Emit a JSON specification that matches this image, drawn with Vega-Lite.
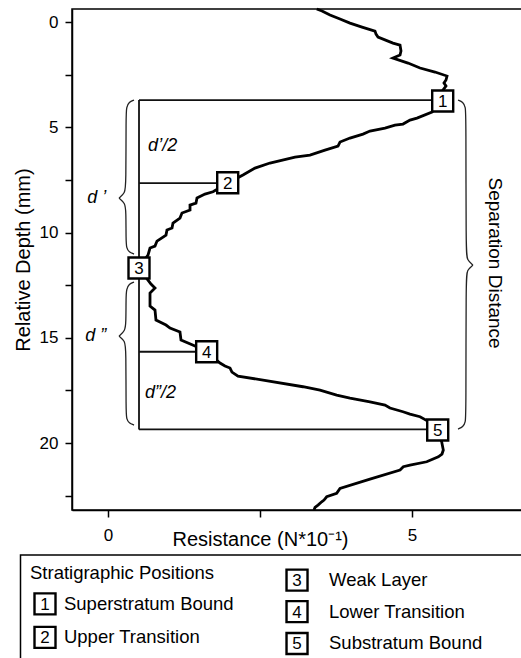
{
  "$schema": "https://vega.github.io/schema/vega-lite/v6.json",
  "width": 454,
  "height": 501,
  "autosize": {"type": "none"},
  "padding": {"left": 72, "top": 9, "right": 0, "bottom": 148},
  "background": "white",
  "config": {
    "font": "Liberation Sans",
    "view": {"stroke": "#000", "strokeWidth": 1.5},
    "axis": {"grid": false, "domainColor": "#000", "domainWidth": 1.5, "tickColor": "#000", "tickWidth": 1.5, "tickSize": 7, "labelColor": "#000", "titleColor": "#000", "labelFont": "Liberation Sans", "titleFont": "Liberation Sans", "titleFontWeight": "normal", "labelFontSize": 17, "titleFontSize": 20}
  },
  "datasets": {
    "curve": [
      {"r":3.433,"d":-0.62},{"r":3.520,"d":-0.523},{"r":3.651,"d":-0.333},{"r":3.816,"d":-0.143},{"r":3.980,"d":0.048},{"r":4.178,"d":0.238},{"r":4.391,"d":0.428},{"r":4.408,"d":0.570},{"r":4.441,"d":0.713},{"r":4.687,"d":0.998},{"r":4.803,"d":1.093},{"r":4.819,"d":1.378},{"r":4.803,"d":1.568},{"r":4.687,"d":1.710},{"r":4.934,"d":1.948},{"r":5.132,"d":2.185},{"r":5.378,"d":2.375},{"r":5.576,"d":2.565},{"r":5.559,"d":2.755},{"r":5.526,"d":2.898},{"r":5.559,"d":3.040},{"r":5.510,"d":3.230},{"r":5.510,"d":3.468},{"r":5.505,"d":3.786},{"r":5.329,"d":4.276},{"r":5.082,"d":4.561},{"r":4.967,"d":4.656},{"r":4.852,"d":4.846},{"r":4.720,"d":4.893},{"r":4.556,"d":5.036},{"r":4.309,"d":5.178},{"r":4.194,"d":5.321},{"r":3.980,"d":5.511},{"r":3.816,"d":5.701},{"r":3.783,"d":5.891},{"r":3.569,"d":6.081},{"r":3.322,"d":6.318},{"r":3.076,"d":6.413},{"r":2.664,"d":6.698},{"r":2.418,"d":6.936},{"r":2.220,"d":7.268},{"r":1.974,"d":7.648},{"r":1.727,"d":8.062},{"r":1.595,"d":8.171},{"r":1.464,"d":8.361},{"r":1.447,"d":8.599},{"r":1.349,"d":8.694},{"r":1.349,"d":8.931},{"r":1.217,"d":9.074},{"r":1.184,"d":9.311},{"r":1.069,"d":9.549},{"r":1.053,"d":9.786},{"r":0.970,"d":9.881},{"r":0.954,"d":10.119},{"r":0.806,"d":10.404},{"r":0.773,"d":10.641},{"r":0.691,"d":10.736},{"r":0.658,"d":11.069},{"r":0.510,"d":11.686},{"r":0.658,"d":12.257},{"r":0.707,"d":12.447},{"r":0.773,"d":12.637},{"r":0.691,"d":12.874},{"r":0.691,"d":13.492},{"r":0.773,"d":13.682},{"r":0.789,"d":14.157},{"r":0.954,"d":14.394},{"r":1.020,"d":14.537},{"r":1.184,"d":14.727},{"r":1.201,"d":15.107},{"r":1.431,"d":15.392},{"r":1.623,"d":15.663},{"r":1.842,"d":16.199},{"r":1.924,"d":16.342},{"r":2.007,"d":16.437},{"r":2.039,"d":16.627},{"r":2.138,"d":16.817},{"r":3.207,"d":17.325},{"r":3.487,"d":17.482},{"r":3.761,"d":17.720},{"r":3.980,"d":17.862},{"r":4.309,"d":18.038},{"r":4.556,"d":18.195},{"r":4.638,"d":18.337},{"r":4.852,"d":18.513},{"r":4.967,"d":18.622},{"r":5.132,"d":18.750},{"r":5.230,"d":18.907},{"r":5.423,"d":19.382},{"r":5.488,"d":19.938},{"r":5.515,"d":20.333},{"r":5.493,"d":20.523},{"r":5.433,"d":20.651},{"r":5.242,"d":20.888},{"r":4.967,"d":21.045},{"r":4.857,"d":21.126},{"r":4.803,"d":21.283},{"r":4.309,"d":21.710},{"r":3.816,"d":22.152},{"r":3.761,"d":22.390},{"r":3.597,"d":22.551},{"r":3.553,"d":22.708},{"r":3.515,"d":22.788},{"r":3.454,"d":22.945},{"r":3.405,"d":23.055},{"r":3.388,"d":23.18}
    ],
    "segs": [
      {"r":0.51,"d":3.705,"r2":0.51,"d2":19.35},
      {"r":0.51,"d":3.705,"r2":5.505,"d2":3.705},
      {"r":0.51,"d":7.648,"r2":1.97,"d2":7.648},
      {"r":0.51,"d":15.663,"r2":1.623,"d2":15.663},
      {"r":0.51,"d":19.35,"r2":5.423,"d2":19.35}
    ],
    "braces": [
      {"b":"a","r":0.428,"d":3.705},{"b":"a","r":0.345,"d":3.800},{"b":"a","r":0.304,"d":4.038},{"b":"a","r":0.296,"d":4.418},{"b":"a","r":0.296,"d":7.743},{"b":"a","r":0.280,"d":8.124},{"b":"a","r":0.181,"d":8.361},{"b":"a","r":0.181,"d":8.362},{"b":"a","r":0.280,"d":8.599},{"b":"a","r":0.296,"d":8.979},{"b":"a","r":0.296,"d":10.356},{"b":"a","r":0.304,"d":10.736},{"b":"a","r":0.345,"d":10.926},{"b":"a","r":0.428,"d":11.021},
      {"b":"b","r":0.428,"d":12.352},{"b":"b","r":0.345,"d":12.447},{"b":"b","r":0.304,"d":12.684},{"b":"b","r":0.296,"d":13.064},{"b":"b","r":0.296,"d":14.299},{"b":"b","r":0.280,"d":14.679},{"b":"b","r":0.181,"d":14.917},{"b":"b","r":0.181,"d":14.918},{"b":"b","r":0.280,"d":15.154},{"b":"b","r":0.296,"d":15.534},{"b":"b","r":0.296,"d":18.480},{"b":"b","r":0.304,"d":18.860},{"b":"b","r":0.345,"d":19.050},{"b":"b","r":0.428,"d":19.145},
      {"b":"c","r":5.757,"d":3.705},{"b":"c","r":5.839,"d":3.800},{"b":"c","r":5.880,"d":4.038},{"b":"c","r":5.888,"d":4.418},{"b":"c","r":5.888,"d":10.926},{"b":"c","r":5.905,"d":11.306},{"b":"c","r":6.003,"d":11.544},{"b":"c","r":6.003,"d":11.545},{"b":"c","r":5.905,"d":11.781},{"b":"c","r":5.888,"d":12.162},{"b":"c","r":5.888,"d":18.622},{"b":"c","r":5.880,"d":19.002},{"b":"c","r":5.839,"d":19.240},{"b":"c","r":5.757,"d":19.335}
    ],
    "boxes": [
      {"n":"1","r":5.505,"d":3.75},
      {"n":"2","r":1.969,"d":7.634},
      {"n":"3","r":0.51,"d":11.686},
      {"n":"4","r":1.623,"d":15.663},
      {"n":"5","r":5.423,"d":19.382},
      {"n":"1","r":-1.036,"d":27.64},
      {"n":"2","r":-1.036,"d":29.23},
      {"n":"3","r":3.109,"d":26.51},
      {"n":"4","r":3.109,"d":28.01},
      {"n":"5","r":3.109,"d":29.52}
    ],
    "halfLabels": [
      {"t":"d’/2","r":0.66,"d":5.89},
      {"t":"d”/2","r":0.61,"d":17.62}
    ],
    "braceLabels": [
      {"t":"d ’","r":-0.03,"d":8.361},
      {"t":"d ”","r":-0.03,"d":14.917}
    ],
    "side": [
      {"t":"Separation Distance","r":6.365,"d":11.45}
    ],
    "legendBox": [
      {"r":-1.439,"d":25.32,"r2":7.4,"d2":31.5}
    ],
    "legendText": [
      {"t":"Stratigraphic Positions","r":-1.283,"d":26.16},
      {"t":"Superstratum Bound","r":-0.724,"d":27.64},
      {"t":"Upper Transition","r":-0.724,"d":29.23},
      {"t":"Weak Layer","r":3.635,"d":26.51},
      {"t":"Lower Transition","r":3.635,"d":28.01},
      {"t":"Substratum Bound","r":3.635,"d":29.52}
    ]
  },
  "encoding": {
    "x": {
      "field": "r", "type": "quantitative",
      "scale": {"domain": [-0.592, 6.875], "nice": false, "zero": false},
      "axis": {"values": [0, 2.5, 5], "labelExpr": "datum.value % 5 === 0 ? datum.label : ''", "title": "Resistance (N*10⁻¹)", "titleX": 188, "titleY": 35, "titleBaseline": "alphabetic", "titleAlign": "center", "labelPadding": 10}
    },
    "y": {
      "field": "d", "type": "quantitative",
      "scale": {"domain": [-0.62, 23.18], "nice": false, "zero": false, "reverse": true},
      "axis": {"values": [0, 2.5, 5, 7.5, 10, 12.5, 15, 17.5, 20, 22.5], "labelExpr": "datum.value % 5 === 0 ? datum.label : ''", "title": "Relative Depth (mm)", "titleX": -43, "titleY": 250.5, "titleAngle": -90, "titleBaseline": "alphabetic", "titleAlign": "center", "labelPadding": 7}
    }
  },
  "layer": [
    {
      "data": {"name": "segs"},
      "mark": {"type": "rule", "color": "#111", "strokeWidth": 1.8},
      "encoding": {"x2": {"field": "r2"}, "y2": {"field": "d2"}}
    },
    {
      "data": {"name": "braces"},
      "mark": {"type": "line", "interpolate": "basis", "color": "#222", "strokeWidth": 1.3},
      "encoding": {"detail": {"field": "b"}, "order": {"field": "d"}}
    },
    {
      "data": {"name": "curve"},
      "mark": {"type": "line", "color": "#000", "strokeWidth": 2.8, "strokeJoin": "miter"},
      "encoding": {"order": {"field": "d"}}
    },
    {
      "data": {"name": "legendBox"},
      "mark": {"type": "rect", "fill": "white", "stroke": "#000", "strokeWidth": 1.5},
      "encoding": {"x2": {"field": "r2"}, "y2": {"field": "d2"}}
    },
    {
      "data": {"name": "boxes"},
      "mark": {"type": "point", "shape": "square", "size": 441, "filled": true, "fill": "white", "stroke": "#000", "strokeWidth": 2.4, "opacity": 1, "fillOpacity": 1, "strokeOpacity": 1},
      "encoding": {}
    },
    {
      "data": {"name": "boxes"},
      "mark": {"type": "text", "fontSize": 17, "align": "center", "baseline": "middle", "color": "#000", "dy": 1},
      "encoding": {"text": {"field": "n"}}
    },
    {
      "data": {"name": "halfLabels"},
      "mark": {"type": "text", "fontSize": 18, "fontStyle": "italic", "align": "left", "baseline": "middle", "color": "#000"},
      "encoding": {"text": {"field": "t"}}
    },
    {
      "data": {"name": "braceLabels"},
      "mark": {"type": "text", "fontSize": 18, "fontStyle": "italic", "align": "right", "baseline": "middle", "color": "#000"},
      "encoding": {"text": {"field": "t"}}
    },
    {
      "data": {"name": "side"},
      "mark": {"type": "text", "fontSize": 19, "angle": 90, "align": "center", "baseline": "middle", "color": "#000"},
      "encoding": {"text": {"field": "t"}}
    },
    {
      "data": {"name": "legendText"},
      "mark": {"type": "text", "fontSize": 18.5, "align": "left", "baseline": "middle", "color": "#000"},
      "encoding": {"text": {"field": "t"}}
    }
  ]
}
